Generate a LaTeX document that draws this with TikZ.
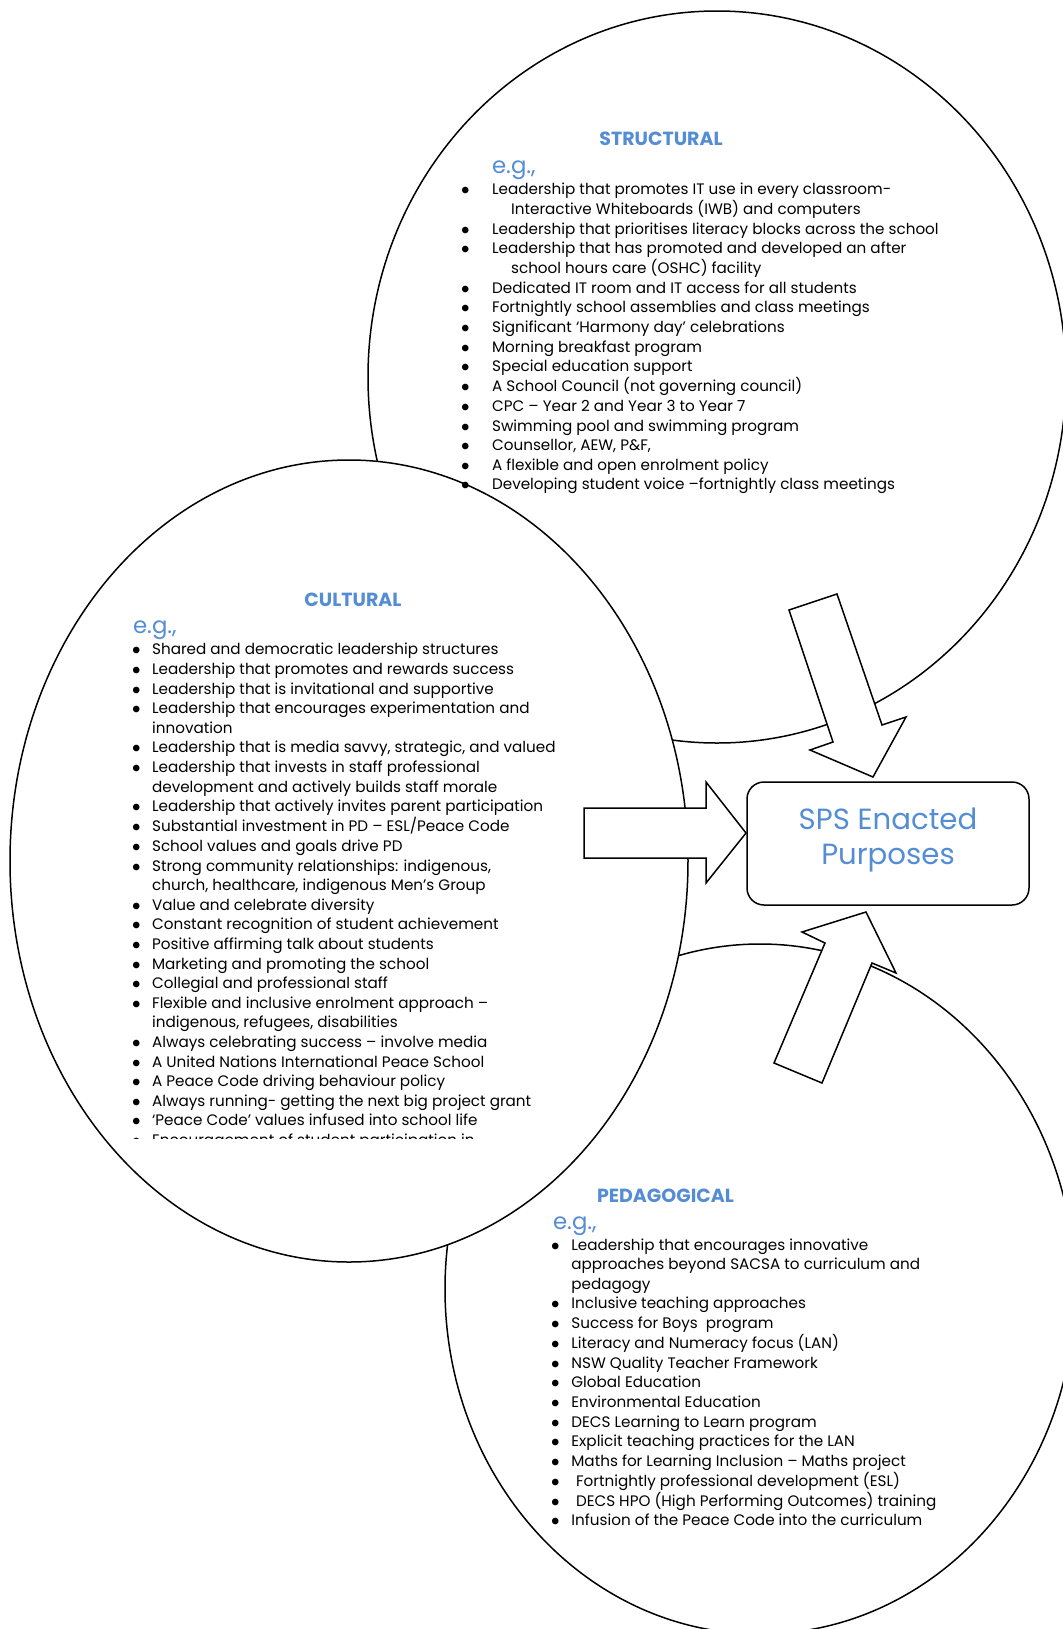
\documentclass[tikz,border=0pt]{standalone}
\usepackage{fontspec}
\setmainfont{Poppins}
\usetikzlibrary{positioning}
\definecolor{headblue}{RGB}{84,141,212}

% bullet in a fixed-width box
\newcommand{\bul}[1]{\makebox[#1][c]{$\bullet$}}

\begin{document}
\begin{tikzpicture}[
    x=0.5pt, y=-0.5pt,
    oval/.style = {
        draw, fill=white, line width=0.75pt
    },
    blockarrow/.style = {
        draw, fill=white, line width=0.75pt, line join=miter
    },
    heading/.style = {
        font=\fontsize{9.5}{11}\selectfont\bfseries, text=headblue, anchor=base, inner sep=0pt
    },
    eg/.style = {
        font=\fontsize{11.4}{13}\selectfont, text=headblue, anchor=base west, inner sep=0pt
    },
    itemlist/.style = {
        font=\fontsize{7.6}{9.8}\selectfont, anchor=north west, inner sep=0pt
    }
]
\useasboundingbox (0,0) rectangle (1063,1629);

% The three ovals
\draw[oval] (717,377) ellipse [x radius=349, y radius=366];
\draw[oval] (760,1289) ellipse [x radius=315, y radius=345];
\draw[oval] (349,861) ellipse [x radius=339, y radius=401];

% STRUCTURAL
\node[heading] (structitle) at (661,145) {STRUCTURAL};
\node[eg] (structeg) at (491.7,173.3) {e.g.,};
\node[itemlist] (structext) at (438.3,180.3) {%
\begin{tabular}{@{}l@{}l@{}}
\bul{26.7pt} & Leadership that promotes IT use in every classroom-\\
 & \hspace*{9.5pt}Interactive Whiteboards (IWB) and computers\\
\bul{26.7pt} & Leadership that prioritises literacy blocks across the school\\
\bul{26.7pt} & Leadership that has promoted and developed an after\\
 & \hspace*{9.5pt}school hours care (OSHC) facility\\
\bul{26.7pt} & Dedicated IT room and IT access for all students\\
\bul{26.7pt} & Fortnightly school assemblies and class meetings\\
\bul{26.7pt} & Significant ‘Harmony day’ celebrations\\
\bul{26.7pt} & Morning breakfast program\\
\bul{26.7pt} & Special education support\\
\bul{26.7pt} & A School Council (not governing council)\\
\bul{26.7pt} & CPC – Year 2 and Year 3 to Year 7\\
\bul{26.7pt} & Swimming pool and swimming program\\
\bul{26.7pt} & Counsellor, AEW, P\&F,\\
\bul{26.7pt} & A flexible and open enrolment policy\\
\bul{26.7pt} & Developing student voice –fortnightly class meetings
\end{tabular}};

% CULTURAL
\node[heading] (culttitle) at (353,606.7) {CULTURAL};
\node[eg] (culteg) at (132.7,633.3) {e.g.,};
\begin{scope}
\clip (100,600) rectangle (700,1138);
\node[itemlist] (culttext) at (120.3,640.7) {%
\begin{tabular}{@{}l@{}l@{}}
\bul{15.7pt} & Shared and democratic leadership structures\\
\bul{15.7pt} & Leadership that promotes and rewards success\\
\bul{15.7pt} & Leadership that is invitational and supportive\\
\bul{15.7pt} & Leadership that encourages experimentation and\\
 & innovation\\
\bul{15.7pt} & Leadership that is media savvy, strategic, and valued\\
\bul{15.7pt} & Leadership that invests in staff professional\\
 & development and actively builds staff morale\\
\bul{15.7pt} & Leadership that actively invites parent participation\\
\bul{15.7pt} & Substantial investment in PD – ESL/Peace Code\\
\bul{15.7pt} & School values and goals drive PD\\
\bul{15.7pt} & Strong community relationships: indigenous,\\
 & church, healthcare, indigenous Men’s Group\\
\bul{15.7pt} & Value and celebrate diversity\\
\bul{15.7pt} & Constant recognition of student achievement\\
\bul{15.7pt} & Positive affirming talk about students\\
\bul{15.7pt} & Marketing and promoting the school\\
\bul{15.7pt} & Collegial and professional staff\\
\bul{15.7pt} & Flexible and inclusive enrolment approach –\\
 & indigenous, refugees, disabilities\\
\bul{15.7pt} & Always celebrating success – involve media\\
\bul{15.7pt} & A United Nations International Peace School\\
\bul{15.7pt} & A Peace Code driving behaviour policy\\
\bul{15.7pt} & Always running- getting the next big project grant\\
\bul{15.7pt} & ‘Peace Code’ values infused into school life\\
\bul{15.7pt} & Encouragement of student participation in
\end{tabular}};
\end{scope}

% PEDAGOGICAL
\node[heading] (pedtitle) at (665.5,1202.7) {PEDAGOGICAL};
\node[eg] (pedeg) at (552.7,1229) {e.g.,};
\node[itemlist] (pedtext) at (539,1236) {%
\begin{tabular}{@{}l@{}l@{}}
\bul{16pt} & Leadership that encourages innovative\\
 & approaches beyond SACSA to curriculum and\\
 & pedagogy\\
\bul{16pt} & Inclusive teaching approaches\\
\bul{16pt} & Success for Boys \ program\\
\bul{16pt} & Literacy and Numeracy focus (LAN)\\
\bul{16pt} & NSW Quality Teacher Framework\\
\bul{16pt} & Global Education\\
\bul{16pt} & Environmental Education\\
\bul{16pt} & DECS Learning to Learn program\\
\bul{16pt} & Explicit teaching practices for the LAN\\
\bul{16pt} & Maths for Learning Inclusion – Maths project\\
\bul{16pt} & \hspace*{2.3pt}Fortnightly professional development (ESL)\\
\bul{16pt} & \hspace*{2.3pt}DECS HPO (High Performing Outcomes) training\\
\bul{16pt} & Infusion of the Peace Code into the curriculum
\end{tabular}};

% Target box
\node[draw, rounded corners=8.5pt, line width=0.75pt, minimum width=141pt, minimum height=61.5pt, inner sep=0pt] (sps) at (888,843.5) {};
\node[font=\fontsize{14.6}{17.6}\selectfont, text=headblue, align=center, inner sep=0pt] (spslabel) at (888,840) {SPS Enacted\\Purposes};

% Block arrows into the box
\draw[blockarrow] (789,610) -- (837,594) -- (882,725) -- (906,717) -- (873,777) -- (810,750) -- (833,742) -- cycle;
\draw[blockarrow] (584,808) -- (706,808) -- (706,782) -- (746,833) -- (706,883) -- (706,858) -- (584,858) -- cycle;
\draw[blockarrow] (774,1063) -- (825,943) -- (802,932) -- (866,912) -- (896,973) -- (872,963) -- (822,1083) -- cycle;

\end{tikzpicture}
\end{document}
